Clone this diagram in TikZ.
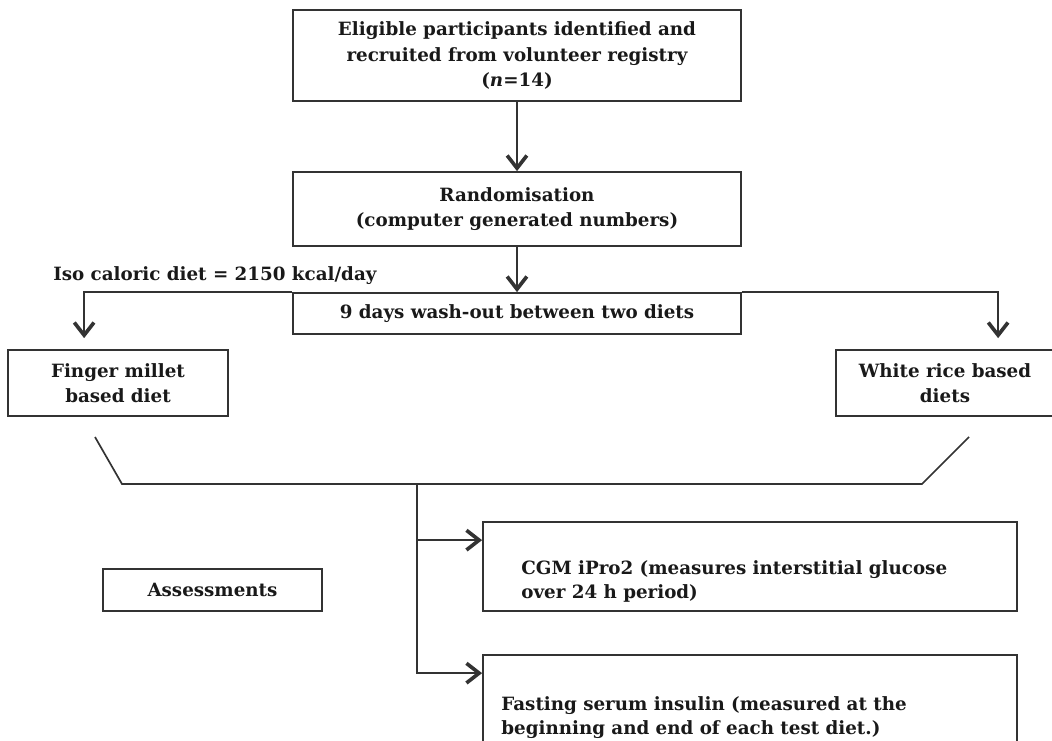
\documentclass[tikz,border=0pt]{standalone}
\usepackage{fontspec}
\setmainfont{DejaVu Serif}
\usetikzlibrary{arrows.meta,calc}

\begin{document}
\begin{tikzpicture}[x=0.025cm,y=-0.025cm,
    box/.style={draw=black!80,line width=1.2pt,inner sep=0pt,align=center,
      font=\bfseries\fontsize{13}{17.9}\selectfont,text=black!90},
    txt/.style={inner sep=0pt,align=left,
      font=\bfseries\fontsize{13}{17}\selectfont,text=black!90},
    ln/.style={draw=black!80,line width=1.2pt},
    arr/.style={ln,-{Straight Barb[length=9pt,width=14pt,line width=2.6pt]}}]
  \useasboundingbox (0,0) rectangle (1052,741);

  % recruitment and randomisation
  \node[box,minimum width=11.2cm,minimum height=2.275cm] (recruit) at (517,55.5)
    {Eligible participants identified and\\recruited from volunteer registry\\(\textit{n}=14)};
  \node[box,minimum width=11.2cm,minimum height=1.85cm] (random) at (517,209)
    {Randomisation\\(computer generated numbers)};
  \node[txt,anchor=base west] (isocal) at (53,281) {Iso caloric diet = 2150 kcal/day};
  \node[box,minimum width=11.2cm,minimum height=1.025cm] (washout) at (517,313.5)
    {9 days wash-out between two diets};

  % the two diets
  \node[box,minimum width=5.5cm,minimum height=1.65cm] (finger) at (118,383)
    {Finger millet\\based diet};
  \node[box,minimum width=5.45cm,minimum height=1.65cm] (white) at (945,383)
    {White rice based\\diets};

  % assessments
  \node[box,minimum width=5.475cm,minimum height=1.05cm] (assess) at (212.5,590)
    {Assessments};
  \node[box,minimum width=13.35cm,minimum height=2.225cm] (cgm) at (750,566.5) {};
  \node[txt,anchor=north west] (cgmtxt) at ($(cgm.north west)+(39,39)$)
    {CGM iPro2 (measures interstitial glucose\\over 24 h period)};
  \node[box,minimum width=13.35cm,minimum height=2.875cm] (fast) at (750,712.5) {};
  \node[txt,anchor=north west] (fasttxt) at ($(fast.north west)+(19,42)$)
    {Fasting serum insulin (measured at the\\beginning and end of each test diet.)};

  \coordinate (fingerin) at ($(finger.north west)+(77,-11)$);
  \coordinate (whitein) at ($(white.north west)+(163,-11)$);
  \coordinate (mergeL) at (95,437);
  \coordinate (mergeLb) at (122,484);
  \coordinate (mergeRb) at (922,484);
  \coordinate (mergeR) at (969,437);
  \coordinate (trunk) at (417,484);
  \coordinate (cgmin) at ($(cgm.north west)+(0,19)$);
  \coordinate (fastin) at ($(fast.north west)+(0,19)$);

  % connectors
  \draw[arr] (recruit) -- (random);
  \draw[arr] (random) -- (washout);
  \draw[arr] (washout.north west) -| (fingerin);
  \draw[arr] (washout.north east) -| (whitein);
  \draw[ln] (mergeL) -- (mergeLb) -- (mergeRb) -- (mergeR);
  \draw[arr] (trunk) |- (cgmin);
  \draw[arr] (trunk) |- (fastin);
\end{tikzpicture}
\end{document}
